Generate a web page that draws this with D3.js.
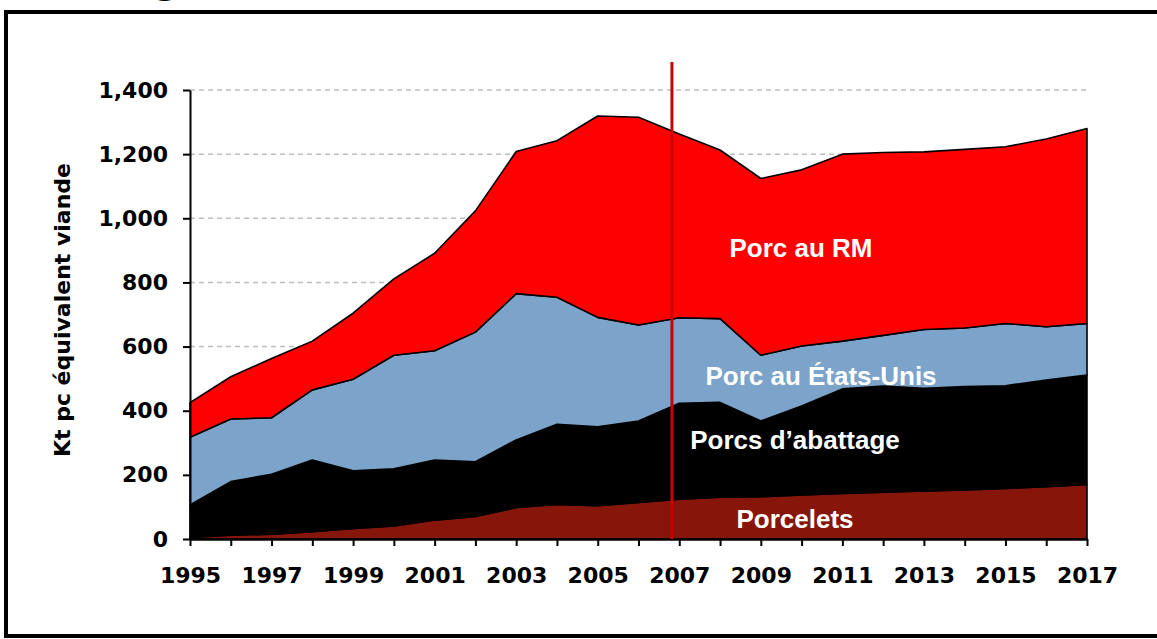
<!DOCTYPE html>
<html>
<head>
<meta charset="utf-8">
<script src="https://cdn.jsdelivr.net/npm/d3@7"></script>
<style>
  html, body { margin: 0; padding: 0; background: #fff; overflow: hidden; }
  svg { display: block; }
</style>
</head>
<body>
<svg id="chart" width="1157" height="639"></svg>
<script>
// ---- data ----
const years = [1995,1996,1997,1998,1999,2000,2001,2002,2003,2004,2005,2006,2007,2008,2009,2010,2011,2012,2013,2014,2015,2016,2017];
const porcelets = [5,12,15,23,33,41,59,70,98,108,104,114,124,130,132,137,142,146,150,153,158,163,170];
const porcsAbattage = [101,167,187,223,180,178,187,171,211,250,246,254,299,296,236,278,326,331,320,322,320,333,341];
const porcEtatsUnis = [211,195,176,219,285,354,341,404,456,396,341,299,267,261,205,187,149,158,183,183,194,166,161];
const porcRM = [108,132,185,152,206,238,304,378,443,488,628,648,573,526,551,549,583,570,554,557,551,585,608];
const seriesNames = ["Porcelets", "Porcs d’abattage", "Porc au États-Unis", "Porc au RM"];
const yTicks = [0,200,400,600,800,1000,1200,1400];
const markerYear = 2006.82;
const yTitle = "Kt pc équivalent viande";

// ---- layout ----
const svg = d3.select("#chart");
const axisFont = "'DejaVu Sans', Verdana, sans-serif";
const labelFont = "'Liberation Sans', Arial, sans-serif";
const colors = ["#86150a", "#000000", "#7ca3c9", "#ff0000"];

const x = d3.scaleLinear().domain([1995, 2017]).range([190, 1087]);
const y = d3.scaleLinear().domain([0, 1400]).range([539, 90]);

// frame
svg.append("rect").attr("x", 6).attr("y", 12).attr("width", 1165).attr("height", 624)
  .attr("fill", "none").attr("stroke", "#000").attr("stroke-width", 4);

// cut-off title fragment (the reference shows only its descender)
svg.append("text").attr("x", 154).attr("y", -6).attr("font-family", axisFont)
  .attr("font-weight", "bold").attr("font-size", 36).attr("fill", "#000").text("g");

// gridlines
svg.append("g").selectAll("line").data(yTicks.filter(d => d > 0)).join("line")
  .attr("x1", x(1995)).attr("x2", x(2017))
  .attr("y1", d => y(d)).attr("y2", d => y(d))
  .attr("stroke", "#bdbdbd").attr("stroke-width", 1.5).attr("stroke-dasharray", "5,4");

// stacked areas
const table = years.map((yr, i) => ({
  year: yr,
  [seriesNames[0]]: porcelets[i],
  [seriesNames[1]]: porcsAbattage[i],
  [seriesNames[2]]: porcEtatsUnis[i],
  [seriesNames[3]]: porcRM[i]
}));
const stacked = d3.stack().keys(seriesNames)(table);
const area = d3.area().x(d => x(d.data.year)).y0(d => y(d[0])).y1(d => y(d[1]));
svg.append("g").selectAll("path").data(stacked).join("path")
  .attr("d", area)
  .attr("fill", (d, i) => colors[i])
  .attr("stroke", "#000").attr("stroke-width", 1.6).attr("stroke-linejoin", "round");

// y axis
const yAxis = d3.axisLeft(y).tickValues(yTicks).tickFormat(d3.format(","))
  .tickSize(7).tickSizeOuter(0).tickPadding(15);
const gy = svg.append("g").attr("transform", `translate(${x(1995)},0)`).call(yAxis);
gy.select(".domain").attr("stroke-width", 2);
gy.selectAll(".tick line").attr("stroke-width", 2);
gy.selectAll("text").attr("font-family", axisFont).attr("font-weight", "bold")
  .attr("font-size", 22).attr("fill", "#000");

// x axis
const xAxis = d3.axisBottom(x).tickValues(years)
  .tickFormat(d => (d % 2 === 1 ? String(d) : ""))
  .tickSize(7).tickSizeOuter(0).tickPadding(21);
const gx = svg.append("g").attr("transform", `translate(0,${y(0)})`).call(xAxis);
gx.select(".domain").attr("stroke-width", 2.5);
gx.selectAll(".tick line").attr("stroke-width", 2);
gx.selectAll("text").attr("font-family", axisFont).attr("font-weight", "bold")
  .attr("font-size", 22).attr("fill", "#000");

// marker line
svg.append("line").attr("x1", x(markerYear)).attr("x2", x(markerYear))
  .attr("y1", 62).attr("y2", y(0))
  .attr("stroke", "#cc0000").attr("stroke-width", 3);

// y title
svg.append("text").attr("transform", "translate(70,310) rotate(-90)")
  .attr("text-anchor", "middle").attr("font-family", axisFont).attr("font-weight", "bold")
  .attr("font-size", 22).attr("fill", "#000").text(yTitle);

// series labels
const labels = [
  { name: seriesNames[3], cx: 801, by: 257 },
  { name: seriesNames[2], cx: 821, by: 385 },
  { name: seriesNames[1], cx: 795, by: 449 },
  { name: seriesNames[0], cx: 795, by: 528 }
];
svg.append("g").selectAll("text").data(labels).join("text")
  .attr("x", d => d.cx).attr("y", d => d.by).attr("text-anchor", "middle")
  .attr("font-family", labelFont).attr("font-weight", "bold").attr("font-size", 26)
  .attr("fill", "#fff").text(d => d.name);
</script>
</body>
</html>
